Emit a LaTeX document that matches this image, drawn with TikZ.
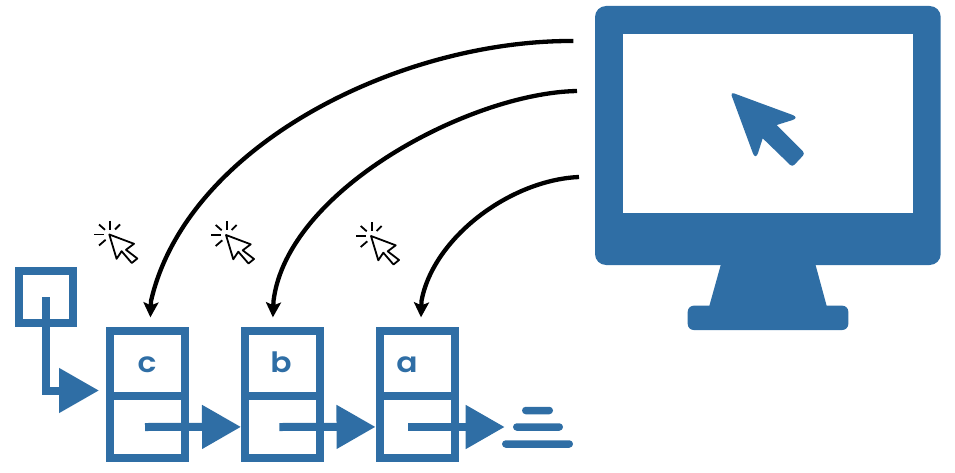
\documentclass[tikz,border=0pt]{standalone}
\usepackage{fontspec}
\usepackage{tikz}
\usetikzlibrary{arrows.meta}
\setmainfont{Poppins}[BoldFont={Poppins SemiBold},BoldFeatures={FakeStretch=1.12}]
\definecolor{boxblue}{HTML}{2F6EA5}
\tikzset{
    celltop/.style={draw=boxblue, line width=8pt, minimum width=75pt, minimum height=64.7pt, inner sep=0pt},
    cellbot/.style={celltop, minimum height=61.7pt},
    headbox/.style={draw=boxblue, line width=7.8pt, minimum width=54.2pt, minimum height=52pt, inner sep=0pt},
    celltext/.style={text=boxblue, font=\fontsize{28}{28}\selectfont\bfseries, inner sep=0pt, anchor=base},
    link/.style={draw=boxblue, line width=8pt, -{Triangle[length=39pt,width=42pt]}},
    jump/.style={draw=black, line width=4.3pt, shorten >=10pt, -{Stealth[length=15pt,width=15pt,inset=3pt]}},
    nullbar/.style={fill=boxblue, rounded corners=3.7pt, minimum height=7.5pt, inner sep=0pt},
    clickcur/.pic={
        \draw [line width=1.8pt, line join=round, fill=white] (0,0) -- (24.7,9.3) -- (16.7,15.3) -- (28,24) -- (22.5,28.5) -- (12.3,16.7) -- (7.3,24.3) -- cycle;
        \foreach \xa/\ya/\xb/\yb in {0.7/-14/0.7/-4.7, 10.7/-10/5.7/-5, -15/0/-5.3/0, -10.3/-10/-4.3/-4.7, -10.3/11/-3.7/5.3}
            \draw [line width=1.8pt] (\xa,\ya) -- (\xb,\yb);
    }
}
\begin{document}
\begin{tikzpicture}[x=1pt, y=-1pt]
    \useasboundingbox (0,0) rectangle (955,473);

    \fill [boxblue, rounded corners=11pt] (595,6) rectangle (940.7,265);
    \fill [white] (622.7,33.7) rectangle (913.3,213.3);
    \fill [boxblue] (721,264) -- (815.3,264) -- (826.7,306) -- (709.3,306) -- cycle;
    \fill [boxblue, rounded corners=6pt] (687.7,305.7) rectangle (848.3,330);
    \fill [boxblue] (760,103) [rounded corners=8pt] -- (800,117.7) [sharp corners] -- (776.7,125) [rounded corners=3pt] -- (805,153.5) -- (792.3,167) [sharp corners] -- (762.7,138.3) [rounded corners=8pt] -- (755.6,160.6) [rounded corners=4pt] -- (730.3,92) -- cycle;

    \foreach \name/\x in {c/147.5, b/282.5, a/417} {
        \node [celltop] (top\name) at (\x,363.7) {};
        \node [cellbot] (bot\name) at (\x,426.9) {};
    }
    \node [celltext] (labelc) at (147,372) {c};
    \node [celltext] (labelb) at (281,372) {b};
    \node [celltext] (labela) at (407,372) {a};
    \node [headbox] (head) at (45.8,297) {};

    \coordinate (headtip) at (99,390.5);
    \coordinate (outc) at (145,427);
    \coordinate (outb) at (279.3,427);
    \coordinate (outa) at (408.3,427);
    \coordinate (nulltip) at (504.7,427);

    \draw [link, -{Triangle[length=40pt,width=43pt]}] (head.center) |- (headtip);
    \draw [link] (outc) -- (botb.west);
    \draw [link] (outb) -- (bota.west);
    \draw [link] (outa) -- (nulltip);

    \node [nullbar, minimum width=31pt] (nulltop) at (537.5,410.5) {};
    \node [nullbar, minimum width=50pt] (nullmid) at (538,427) {};
    \node [nullbar, minimum width=71pt] (nullbot) at (537.5,444) {};

    \coordinate (fromc) at (573.3,41);
    \coordinate (fromb) at (577,91);
    \coordinate (froma) at (579,177);

    \draw [jump] (fromc) .. controls (400,40) and (187,145) .. (151,301) -- ([xshift=2.5pt]topc.north);
    \draw [jump] (fromb) .. controls (470,93) and (287,190) .. (273.5,301) -- ([xshift=-10pt]topb.north);
    \draw [jump] (froma) .. controls (510,180) and (433,238) .. (421.5,301) -- ([xshift=3.7pt]topa.north);

    \pic at (109.3,234.5) {clickcur};
    \pic at (226,235) {clickcur};
    \pic at (371,236) {clickcur};
\end{tikzpicture}
\end{document}
